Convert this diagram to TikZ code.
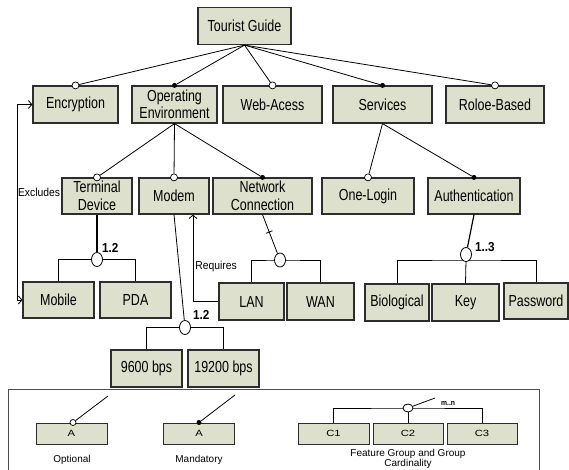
\documentclass[tikz,border=0pt]{standalone}
\usepackage{fontspec}
\setmainfont{Liberation Sans}[FakeStretch=0.78]
\newfontfamily\lblfont{Liberation Sans}[FakeStretch=0.9]
\newfontfamily\legfont{Liberation Sans}
\newfontfamily\legboxfont{Liberation Sans}[FakeStretch=1.25]
\usetikzlibrary{arrows.meta,shapes.geometric,calc}
\definecolor{boxfill}{RGB}{221,224,204}
\definecolor{boxline}{RGB}{45,45,45}
\begin{document}
\begin{tikzpicture}[x=1pt,y=-1pt,
  fbox/.style={draw=boxline, line width=1.2pt, fill=boxfill, minimum height=37pt, inner sep=0pt, align=center, font=\fontsize{16}{17.5}\selectfont},
  conn/.style={line width=0.8pt},
  opt/.style={circle, draw, fill=white, minimum size=7pt, inner sep=0pt, line width=0.7pt},
  mand/.style={circle, fill=black, minimum size=5pt, inner sep=0pt},
  grp/.style={ellipse, draw, fill=white, minimum width=11pt, minimum height=14pt, inner sep=0pt, line width=0.8pt},
  card/.style={font=\lblfont\bfseries\fontsize{13}{14}\selectfont, inner sep=0pt},
  rel/.style={font=\lblfont\fontsize{11.5}{12}\selectfont, inner sep=0pt},
  barb/.style={line width=0.9pt},
  lbox/.style={draw=boxline, line width=1pt, fill=boxfill, minimum width=71pt, minimum height=21pt, inner sep=0pt, font=\legboxfont\fontsize{9}{10}\selectfont},
  legtxt/.style={font=\legfont\fontsize{10}{10}\selectfont, inner sep=0pt, align=center}
]
\useasboundingbox (0,0) rectangle (569,470);

% ---- boxes
\node[fbox, minimum width=93pt] (tg) at (244.5,26) {Tourist Guide};

\node[fbox, minimum width=85pt] (enc) at (75.5,104.5) {Encryption};
\node[fbox, minimum width=85pt] (ope) at (174.5,104.5) {Operating\\Environment};
\node[fbox, minimum width=99pt] (web) at (272.5,104.5) {Web-Acess};
\node[fbox, minimum width=99pt] (srv) at (382.5,104.5) {Services};
\node[fbox, minimum width=98pt] (rol) at (495,104.5) {Roloe-Based};

\node[fbox, minimum width=70pt, minimum height=36pt] (td) at (97,196) {Terminal\\Device};
\node[fbox, minimum width=70pt, minimum height=36pt] (mod) at (174,196) {Modem};
\node[fbox, minimum width=99pt, minimum height=36pt] (nc) at (262.5,196) {Network\\Connection};
\node[fbox, minimum width=92pt, minimum height=36pt] (one) at (368,196) {One-Login};
\node[fbox, minimum width=92pt, minimum height=36pt] (aut) at (474,196) {Authentication};

\node[fbox, minimum width=71pt, minimum height=36pt] (mob) at (58.5,300) {Mobile};
\node[fbox, minimum width=71pt, minimum height=36pt] (pda) at (135.5,300) {PDA};
\node[fbox, minimum width=65pt] (lan) at (251.5,301.5) {LAN};
\node[fbox, minimum width=67pt] (wan) at (320.5,301.5) {WAN};
\node[fbox, minimum width=64pt] (bio) at (397,302.5) {Biological};
\node[fbox, minimum width=67pt] (key) at (465.5,302.5) {Key};
\node[fbox, minimum width=64pt, minimum height=36pt] (pwd) at (536,301) {Password};

\node[fbox, minimum width=71pt] (b96) at (146.5,368.5) {9600 bps};
\node[fbox, minimum width=71pt] (b192) at (223.5,368.5) {19200 bps};

% ---- feature markers on top of children
\node[opt] (encc) at (enc.north) {};
\node[mand] (opec) at (ope.north) {};
\node[opt] (webc) at (web.north) {};
\node[mand] (srvc) at (srv.north) {};
\node[opt] (rolc) at (rol.north) {};
\node[opt] (tdc) at (td.north) {};
\node[opt] (modc) at (mod.north) {};
\node[mand] (ncc) at (nc.north) {};
\node[opt] (onec) at (one.north) {};
\node[mand] (autc) at (aut.north) {};

\foreach \c in {encc,opec,webc,srvc,rolc} \draw[conn] (tg.south) -- (\c);
\foreach \c in {tdc,modc,ncc} \draw[conn] (ope.south) -- (\c);
\foreach \c in {onec,autc} \draw[conn] (srv.south) -- (\c);

% ---- groups
\coordinate (tdgc) at (97,259.5);
\draw[conn] (mob.north) |- (tdgc) -| (pda.north);
\node[grp] (tdg) at (tdgc) {};
\draw[line width=1.3pt] (td.south) -- (tdg);
\node[card, anchor=west] (tdl) at (102,248) {1.2};

\coordinate (modgc) at (185,327.5);
\draw[conn] (b96.north) |- (modgc) -| (b192.north);
\node[grp] (modg) at (modgc) {};
\draw[conn] (mod.south) -- (modg);
\node[card, anchor=west] (modl) at (193,315) {1.2};

\coordinate (ncgc) at (280,260);
\draw[conn] (lan.north) |- (ncgc) -| (wan.north);
\node[grp] (ncg) at (ncgc) {};
\draw[conn] (nc.south) -- (ncg) coordinate[pos=0.45] (tk);
\draw[conn] ($(tk)!3.5pt!90:(ncg)$) -- ($(tk)!3.5pt!-90:(ncg)$);

\coordinate (autgc) at (466,260);
\coordinate (autgp) at (466,254.5);
\draw[conn] (bio.north) |- (autgc) -| (pwd.north);
\draw[conn] (autgc) -- (key.north);
\node[grp] (autg) at (autgp) {};
\draw[line width=1.2pt] (aut.south) -- (autg);
\node[card, anchor=west] (autl) at (475,247) {1..3};

% ---- cross-tree constraints
\coordinate (excx) at (17,0);
\draw[conn, {Straight Barb[length=3.5pt,width=8pt]}-{Straight Barb[length=3.5pt,width=8pt]}]
  (enc.west) -- (enc.west -| excx) -- (mob.west -| excx) -- (mob.west);
\node[rel] (exl) at (39,192) {Excludes};

\draw[conn, -{Straight Barb[length=3.5pt,width=8pt]}] (lan.west) -| ([xshift=19pt]mod.south);
\node[rel] (rql) at (216,267) {Requires};

% ---- legend
\draw[line width=0.9pt, draw=black!70] (8,471) -- (8,389) -- (539,389) -- (539,471);

\node[lbox] (la) at (71.5,433.5) {A};
\coordinate (lat) at (108,396);
\node[opt, minimum size=6pt] (lac) at ([xshift=1.5pt]la.north) {};
\draw[conn] (lac) -- (lat);
\node[legtxt] (lat1) at (72,460) {Optional};

\node[lbox] (lm) at (199,433.5) {A};
\coordinate (lmt) at (235,395);
\node[mand] (lmc) at (lm.north) {};
\draw[conn] (lmc) -- (lmt);
\node[legtxt] (lmt1) at (199,460) {Mandatory};

\node[lbox] (c1) at (333.5,433.5) {C1};
\node[lbox, minimum width=70pt] (c2) at (408,433.5) {C2};
\node[lbox, minimum width=70pt] (c3) at (482,433.5) {C3};
\coordinate (lgc) at (408,408);
\draw[conn] (c1.north) |- (lgc) -| (c3.north);
\draw[conn] (lgc) -- (c2.north);
\node[ellipse, draw, fill=white, minimum width=10pt, minimum height=8pt, inner sep=0pt, line width=0.8pt] (lg) at (lgc) {};
\coordinate (lgt) at (435,398);
\draw[conn] (lg) -- (lgt);
\node[font=\lblfont\bfseries\fontsize{7.5}{8}\selectfont, inner sep=0pt, anchor=west] (lgl) at (441,403) {m..n};
\node[legtxt, font=\legfont\fontsize{10}{9.5}\selectfont] (lgtxt) at (408,459) {Feature Group and Group\\Cardinality};
\end{tikzpicture}
\end{document}
